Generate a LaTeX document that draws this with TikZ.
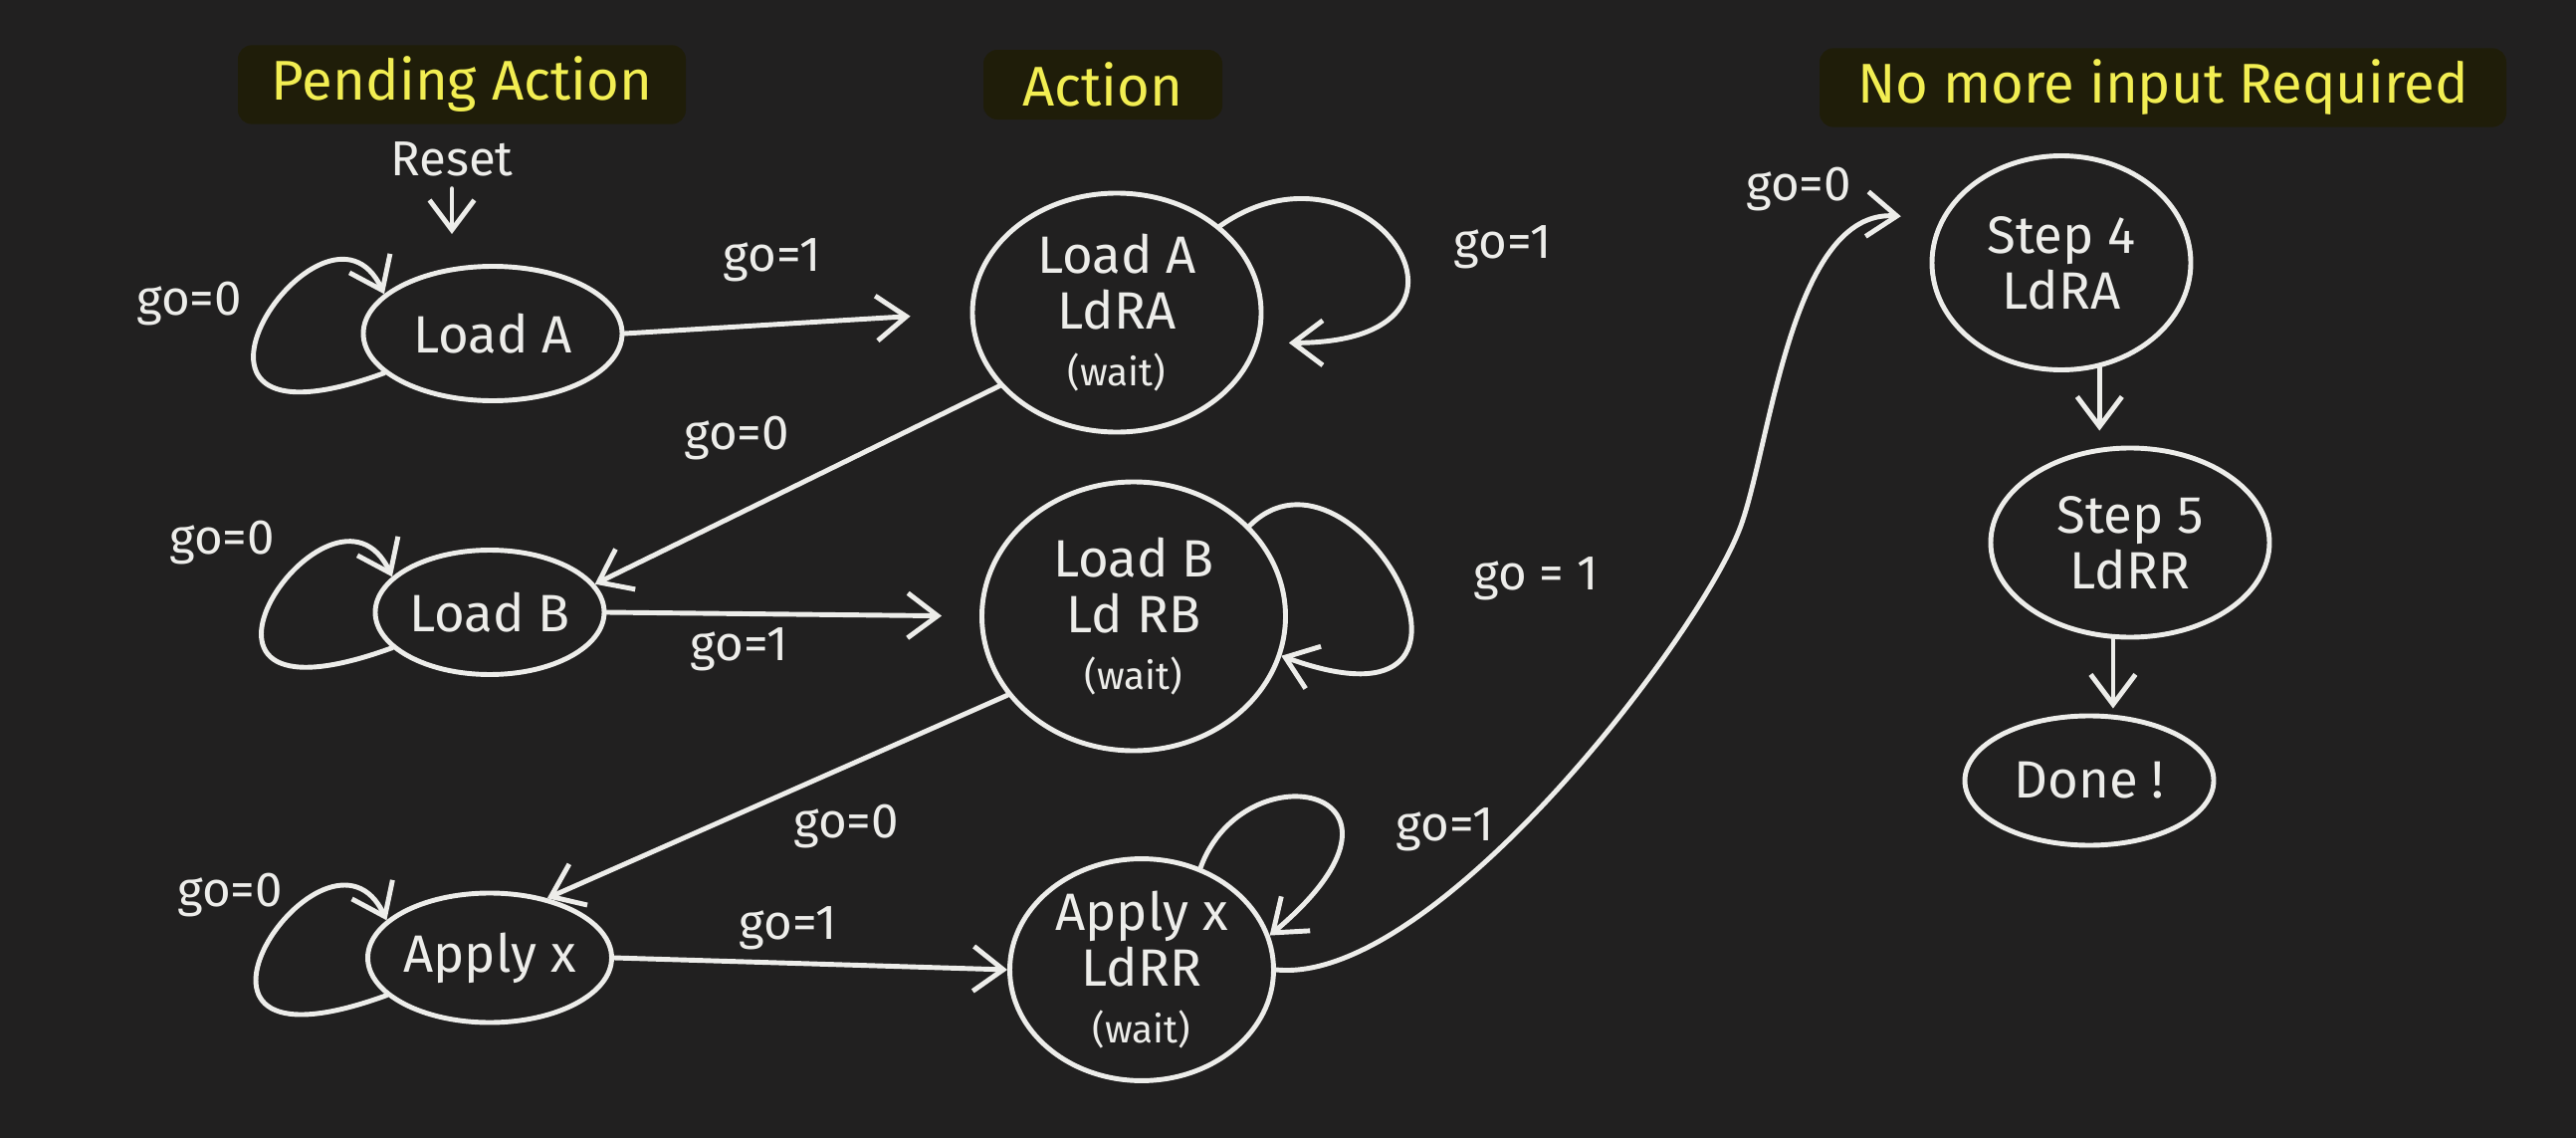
\documentclass[tikz,border=0pt]{standalone}
\usepackage{fontspec}
\setmainfont{Fira Sans}
\usetikzlibrary{arrows.meta, shapes.geometric}
\definecolor{board}{HTML}{212020}
\definecolor{ink}{HTML}{EDEDEA}
\definecolor{marker}{HTML}{F2EE52}
\definecolor{hilite}{HTML}{1F1D09}
\tikzset{
  state/.style={draw=ink, ellipse, line width=1.4pt, text=ink, inner sep=0pt, align=center,
    font=\fontsize{15}{16}\selectfont},
  arr/.style={-{Straight Barb[length=3mm, width=4.5mm]}, line width=1.4pt, draw=ink, line cap=round},
  cond/.style={text=ink, font=\fontsize{14}{16}\selectfont},
  heading/.style={fill=hilite, text=marker, rounded corners=4pt, minimum height=0.7cm,
    font=\fontsize{16}{18}\selectfont},
}
\newcommand{\waitnote}[1]{{\fontsize{11}{12}\selectfont #1}}

\begin{document}
\begin{tikzpicture}
  \fill[board] (0,0) rectangle (25.88,-11.43);
  \useasboundingbox (0,0) rectangle (25.88,-11.43);

  % column headings
  \node[heading, minimum width=4.5cm] (hpend) at (4.64,-0.85) {Pending Action};
  \node[heading, minimum width=2.4cm] (hact) at (11.08,-0.85) {Action};
  \node[heading, minimum width=6.9cm] (hfree) at (21.73,-0.88) {No more input Required};

  % states
  \node[state, minimum width=2.6cm, minimum height=1.35cm] (la) at (4.95,-3.35) {Load A};
  \node[state, minimum width=2.9cm, minimum height=2.4cm] (bla) at (11.22,-3.14) {Load A\\LdRA\\\waitnote{(wait)}};
  \node[state, minimum width=2.3cm, minimum height=1.25cm] (lb) at (4.92,-6.15) {Load B};
  \node[state, minimum width=3.05cm, minimum height=2.7cm] (blb) at (11.39,-6.19) {Load B\\Ld RB\\\waitnote{(wait)}};
  \node[state, minimum width=2.25cm, minimum height=1.3cm] (ax) at (4.92,-9.62) {Apply x};
  \node[state, minimum width=2.65cm, minimum height=2.15cm] (bax) at (11.47,-9.74) {Apply x\\LdRR\\\waitnote{(wait)}};
  \node[state, minimum width=2.6cm, minimum height=2.15cm] (st4) at (20.71,-2.64) {Step 4\\LdRA};
  \node[state, minimum width=2.8cm, minimum height=1.9cm] (st5) at (21.40,-5.45) {Step 5\\LdRR};
  \node[state, minimum width=2.5cm, minimum height=1.3cm] (done) at (20.99,-7.84) {Done !};

  % reset
  \node[cond] (reset) at (4.54,-1.60) {Reset};
  \draw[arr, shorten >=0.3cm] (reset.south) -- (reset.south |- la.north);

  % waiting states loop on go=0
  \draw[arr] (la.200) .. controls +(200:2.8) and +(115:1.4) .. (la.160);
  \node[cond] (g1) at (1.90,-3.05) {go=0};
  \draw[arr] (lb.200) .. controls +(200:2.8) and +(115:1.4) .. (lb.160);
  \node[cond] (g5) at (2.23,-5.45) {go=0};
  \draw[arr] (ax.200) .. controls +(200:2.8) and +(115:1.4) .. (ax.160);
  \node[cond] (g9) at (2.31,-8.99) {go=0};

  % action states loop on go=1
  \draw[arr, shorten >=0.3cm] (bla.40) .. controls +(35:1.8) and +(0:2.6) .. (bla.-12);
  \node[cond] (g3) at (15.10,-2.48) {go=1};
  \draw[arr] (blb.38) .. controls +(45:1.5) and +(-20:2.7) .. (blb.-15);
  \node[cond] (g7) at (15.43,-5.81) {go = 1};
  \draw[arr] (bax.60) .. controls +(70:1.3) and +(40:2.3) .. (bax.15);
  \node[cond] (g11) at (14.52,-8.33) {go=1};

  % transitions
  \draw[arr, shorten >=0.6cm] (la.east) -- (bla.west);
  \node[cond] (g2) at (7.76,-2.61) {go=1};
  \draw[arr] (bla.212) -- (lb.15);
  \node[cond] (g4) at (7.40,-4.40) {go=0};
  \draw[arr, shorten >=0.38cm] (lb.east) -- (blb.west);
  \node[cond] (g6) at (7.43,-6.52) {go=1};
  \draw[arr] (blb.212) -- (ax.46);
  \node[cond] (g8) at (8.50,-8.30) {go=0};
  \draw[arr] (ax.east) -- (bax.west);
  \node[cond] (g10) at (7.92,-9.32) {go=1};
  \draw[arr, shorten >=0.4cm] (bax.east) .. controls (14.4,-9.9) and (17.09,-6.38) .. (17.49,-5.28)
    .. controls (17.79,-4.45) and (18.0,-2.1) .. (st4.160);
  \node[cond] (g12) at (18.07,-1.90) {go=0};
  \draw[arr, shorten >=0.15cm] (st4.290) -- (st4.290 |- st5.north);
  \draw[arr, shorten >=0.05cm] (st5.260) -- (st5.260 |- done.north);
\end{tikzpicture}
\end{document}
